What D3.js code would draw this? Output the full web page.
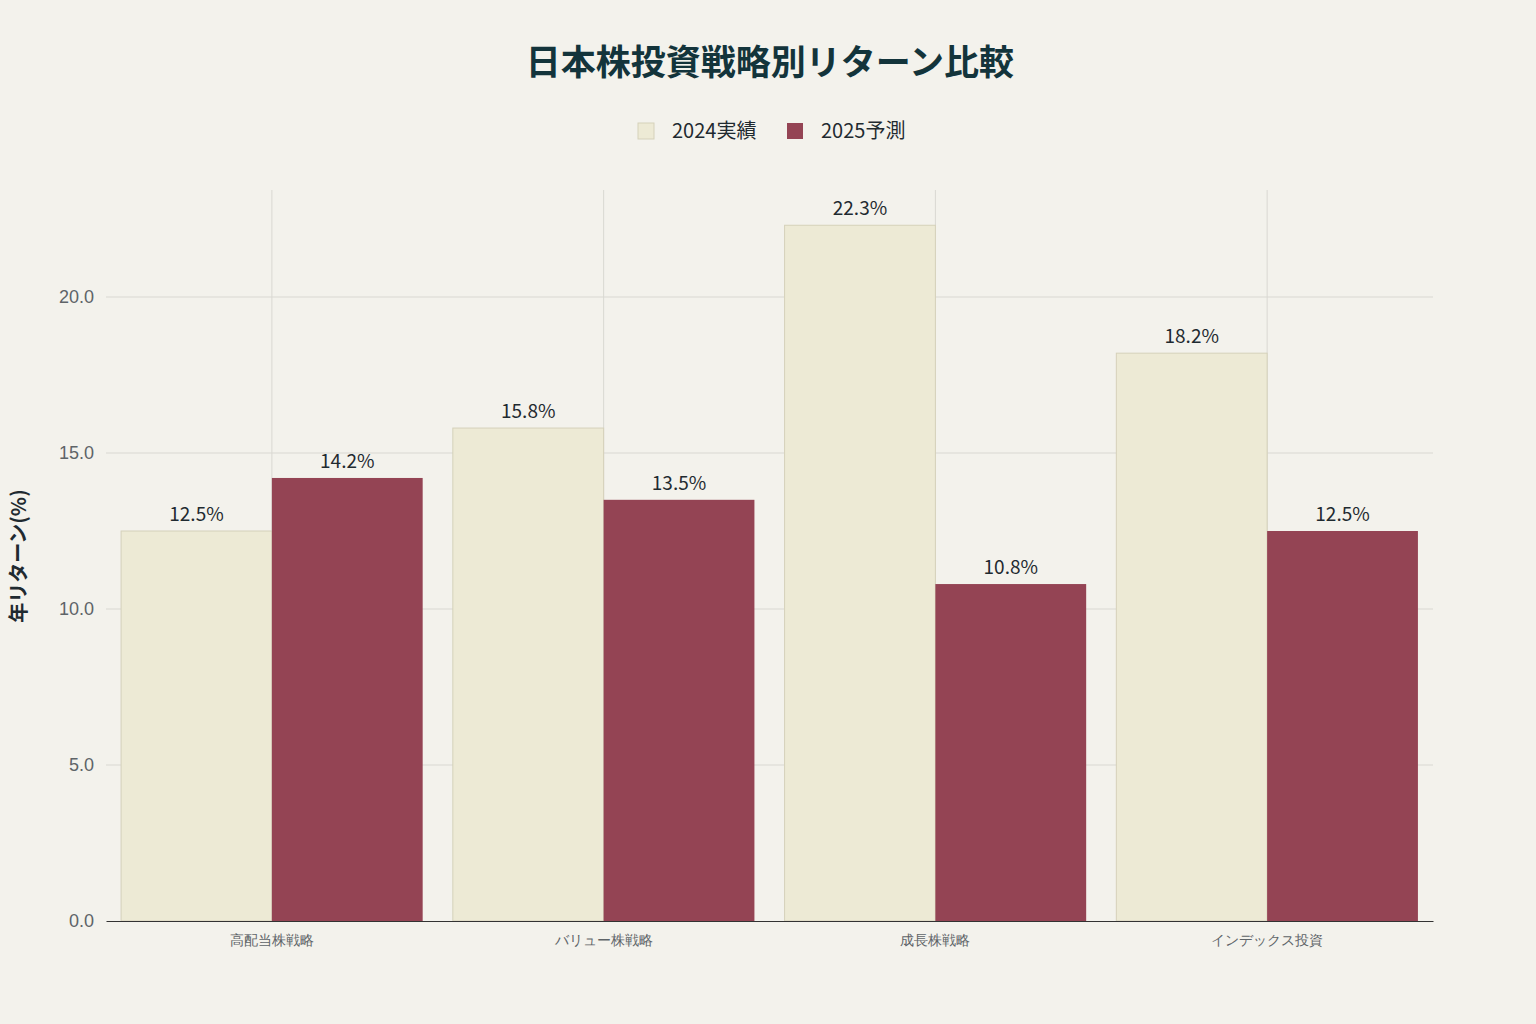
<!DOCTYPE html>
<html><head><meta charset="utf-8">
<script src="https://cdn.jsdelivr.net/npm/d3@7"></script>
<style>body{margin:0;background:#F3F2EC;font-family:"Noto Sans CJK JP","Noto Sans",sans-serif}</style>
</head><body><svg id="c" width="1536" height="1024"></svg>
<script>
const categories = ["高配当株戦略", "バリュー株戦略", "成長株戦略", "インデックス投資"];
const seriesNames = ["2024実績", "2025予測"];
const actual2024 = [12.5, 15.8, 22.3, 18.2];
const forecast2025 = [14.2, 13.5, 10.8, 12.5];
const yTicks = [0, 5, 10, 15, 20];
const colors = ["#EDEAD5", "#944454"];

const svg = d3.select("#c");
const m = {l: 106, r: 1433, t: 190, b: 921};
const x = d3.scaleBand().domain(categories).range([m.l, m.r]);
const xs = d3.scaleBand().domain(seriesNames).range([0, x.bandwidth()]).paddingOuter(0.1);
const y = d3.scaleLinear().domain([0, 23.43]).range([m.b, m.t]);

svg.append("rect").attr("width", 1536).attr("height", 1024).attr("fill", "#F3F2EC");

// grid
svg.append("g").selectAll("line").data(yTicks.slice(1)).join("line")
  .attr("x1", m.l).attr("x2", m.r).attr("y1", d => y(d)).attr("y2", d => y(d))
  .attr("stroke", "#D9D8D2").attr("stroke-width", 1);
svg.append("g").selectAll("line").data(categories).join("line")
  .attr("x1", d => x(d) + x.bandwidth() / 2).attr("x2", d => x(d) + x.bandwidth() / 2)
  .attr("y1", m.t).attr("y2", m.b).attr("stroke", "#D9D8D2");

const data = [actual2024, forecast2025];
data.forEach((vals, si) => {
  const g = svg.append("g");
  g.selectAll("rect").data(vals).join("rect")
    .attr("x", (d, i) => x(categories[i]) + xs(seriesNames[si]))
    .attr("width", xs.bandwidth())
    .attr("y", d => y(d)).attr("height", d => m.b - y(d))
    .attr("fill", colors[si])
    .attr("stroke", si === 0 ? "#D5D1BA" : "none");
  g.selectAll("text").data(vals).join("text")
    .attr("x", (d, i) => x(categories[i]) + xs(seriesNames[si]) + xs.bandwidth() / 2)
    .attr("y", d => y(d) - 10)
    .attr("text-anchor", "middle").attr("font-size", 19).attr("fill", "#1F2A30")
    .text(d => d.toFixed(1) + "%");
});

// axes
const ya = svg.append("g").attr("transform", `translate(${m.l},0)`)
  .call(d3.axisLeft(y).tickValues(yTicks).tickFormat(d3.format(".1f")).tickSize(0).tickPadding(12));
ya.select(".domain").remove();
ya.selectAll("text").attr("font-size", 18).attr("fill", "#5E6468").attr("font-family", "inherit");

const xa = svg.append("g").attr("transform", `translate(0,${m.b})`)
  .call(d3.axisBottom(x).tickSize(0).tickPadding(14));
xa.select(".domain").attr("stroke", "#333");
xa.selectAll("text").attr("font-size", 14).attr("fill", "#5E6468").attr("font-family", "inherit");

svg.append("text").attr("transform", "translate(26,556) rotate(-90)")
  .attr("text-anchor", "middle").attr("font-size", 20).attr("font-weight", "bold").attr("fill", "#1F2A30")
  .text("年リターン(%)");

svg.append("text").attr("x", 770).attr("y", 75).attr("text-anchor", "middle")
  .attr("font-size", 35).attr("font-weight", "bold").attr("fill", "#13343B")
  .text("日本株投資戦略別リターン比較");

// legend
const lx = [638, 787];
seriesNames.forEach((s, i) => {
  svg.append("rect").attr("x", lx[i]).attr("y", 123).attr("width", 16).attr("height", 16)
    .attr("fill", colors[i]).attr("stroke", i === 0 ? "#D5D1BA" : "none");
  svg.append("text").attr("x", lx[i] + 34).attr("y", 138).attr("font-size", 20).attr("fill", "#1F2A30").text(s);
});
</script></body></html>
